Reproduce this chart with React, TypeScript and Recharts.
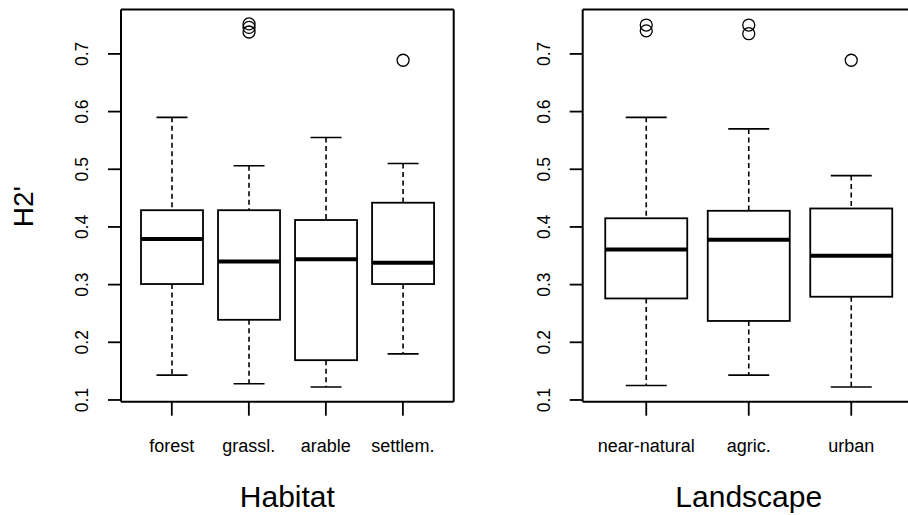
import { ComposedChart, Bar, XAxis, YAxis } from "recharts";

// Habitat panel
const habitatCats = ["forest", "grassl.", "arable", "settlem."];
const habitatMin = [0.143, 0.128, 0.1225, 0.18];
const habitatQ1 = [0.301, 0.239, 0.169, 0.301];
const habitatMed = [0.379, 0.34, 0.344, 0.338];
const habitatQ3 = [0.429, 0.429, 0.412, 0.442];
const habitatMax = [0.59, 0.506, 0.555, 0.51];
const habitatOut = [[], [0.752, 0.746, 0.738], [], [0.689]];

// Landscape panel
const landCats = ["near-natural", "agric.", "urban"];
const landMin = [0.125, 0.143, 0.1225];
const landQ1 = [0.276, 0.237, 0.279];
const landMed = [0.361, 0.378, 0.35];
const landQ3 = [0.415, 0.428, 0.432];
const landMax = [0.59, 0.57, 0.489];
const landOut = [[0.75, 0.74], [0.75, 0.735], [0.689]];

const yTicks = [0.1, 0.2, 0.3, 0.4, 0.5, 0.6, 0.7];
const yDomain = [0.097, 0.777];

const FONT = "'Liberation Sans', Arial, sans-serif";

function buildRows(
  cats: string[],
  min: number[],
  q1: number[],
  med: number[],
  q3: number[],
  max: number[],
  out: number[][]
) {
  return cats.map((name, i) => ({
    name,
    min: min[i],
    q1: q1[i],
    median: med[i],
    q3: q3[i],
    max: max[i],
    outliers: out[i],
    range: [min[i], max[i]],
  }));
}

const habitatData = buildRows(habitatCats, habitatMin, habitatQ1, habitatMed, habitatQ3, habitatMax, habitatOut);
const landData = buildRows(landCats, landMin, landQ1, landMed, landQ3, landMax, landOut);

function BoxShape(props: any) {
  const { x, y, width, height, payload } = props;
  if (!payload || height == null) return null;
  const { min, q1, median, q3, max, outliers } = payload;
  // bar spans [min, max]; map other values through the same linear scale
  const py = (v: number) => y + ((max - v) / (max - min)) * height;
  const cx = x + width / 2;
  const half = width / 4;
  return (
    <g>
      <line x1={cx} x2={cx} y1={py(max)} y2={py(q3)} stroke="#000" strokeWidth={1.6} strokeDasharray="5 3.5" />
      <line x1={cx} x2={cx} y1={py(q1)} y2={py(min)} stroke="#000" strokeWidth={1.6} strokeDasharray="5 3.5" />
      <line x1={cx - half} x2={cx + half} y1={py(max)} y2={py(max)} stroke="#000" strokeWidth={1.6} />
      <line x1={cx - half} x2={cx + half} y1={py(min)} y2={py(min)} stroke="#000" strokeWidth={1.6} />
      <rect x={x} y={py(q3)} width={width} height={py(q1) - py(q3)} fill="#fff" stroke="#000" strokeWidth={1.8} />
      <line x1={x} x2={x + width} y1={py(median)} y2={py(median)} stroke="#000" strokeWidth={4} />
      {outliers.map((v: number, i: number) => (
        <circle key={i} cx={cx} cy={py(v)} r={6} fill="none" stroke="#000" strokeWidth={1.3} />
      ))}
    </g>
  );
}

function YTick(props: any) {
  const { x, y, payload } = props;
  const bx = x - 19.5;
  return (
    <text
      x={bx}
      y={y}
      transform={`rotate(-90 ${bx} ${y})`}
      textAnchor="middle"
      fontSize={17.5}
      fontFamily={FONT}
      fill="#000"
    >
      {Number(payload.value).toFixed(1)}
    </text>
  );
}

function BoxPanel({
  data,
  title,
  yLabel,
  yWidth,
  rightMargin,
}: {
  data: any[];
  title: string;
  yLabel?: string;
  yWidth: number;
  rightMargin: number;
}) {
  return (
    <ComposedChart
      width={460}
      height={515}
      data={data}
      margin={{ top: 8.5, right: rightMargin - 1, bottom: 0, left: 0 }}
      barCategoryGap="10%"
    >
      <XAxis
        dataKey="name"
        height={113.3}
        padding={{ left: 12.3, right: 12.3 }}
        axisLine={{ stroke: "#000", strokeWidth: 2 }}
        tickLine={{ stroke: "#000", strokeWidth: 1.8 }}
        tickSize={14}
        tickMargin={23.5}
        tick={{ fontSize: 18, fill: "#000", fontFamily: FONT }}
        interval={0}
        label={{ value: title, position: "insideBottom", offset: 8.5, fontSize: 30, fill: "#000", fontFamily: FONT }}
      />
      <XAxis
        xAxisId="top"
        dataKey="name"
        orientation="top"
        height={1}
        padding={{ left: 12.3, right: 12.3 }}
        tick={false}
        tickLine={false}
        axisLine={{ stroke: "#000", strokeWidth: 2 }}
      />
      <YAxis
        type="number"
        domain={yDomain}
        ticks={yTicks}
        width={yWidth}
        axisLine={{ stroke: "#000", strokeWidth: 2 }}
        tickLine={{ stroke: "#000", strokeWidth: 1.8 }}
        tickSize={13}
        tickMargin={0}
        tick={<YTick />}
        allowDataOverflow
        label={
          yLabel
            ? {
                content: (p: any) => {
                  const vb = p.viewBox || { x: 0, y: 9.5, width: yWidth, height: 392.2 };
                  const lx = vb.x + 33.3;
                  const ly = vb.y + vb.height / 2 + 1;
                  return (
                    <text
                      x={lx}
                      y={ly}
                      transform={`rotate(-90 ${lx} ${ly})`}
                      textAnchor="middle"
                      fontSize={28}
                      fontFamily={FONT}
                      fill="#000"
                    >
                      {yLabel}
                    </text>
                  );
                },
              }
            : undefined
        }
      />
      <YAxis
        yAxisId="right"
        type="number"
        domain={yDomain}
        allowDataOverflow
        orientation="right"
        width={1}
        tick={false}
        tickLine={false}
        axisLine={{ stroke: "#000", strokeWidth: 2 }}
      />
      {/* invisible twin series so the top and right frame axes get a scale */}
      <Bar
        xAxisId="top"
        yAxisId="right"
        dataKey="range"
        fill="none"
        stroke="none"
        isAnimationActive={false}
      />
      <Bar dataKey="range" shape={<BoxShape />} isAnimationActive={false} />
    </ComposedChart>
  );
}

export default function App() {
  return (
    <div
      style={{
        position: "absolute",
        left: 0,
        top: 0,
        width: 908,
        height: 515,
        overflow: "hidden",
        background: "#fff",
      }}
    >
      <div style={{ position: "absolute", left: 0, top: 0 }}>
        <BoxPanel data={habitatData} title="Habitat" yLabel="H2'" yWidth={121} rightMargin={6.3} />
      </div>
      <div style={{ position: "absolute", left: 462, top: 0 }}>
        <BoxPanel data={landData} title="Landscape" yWidth={120.7} rightMargin={7.2} />
      </div>
    </div>
  );
}
